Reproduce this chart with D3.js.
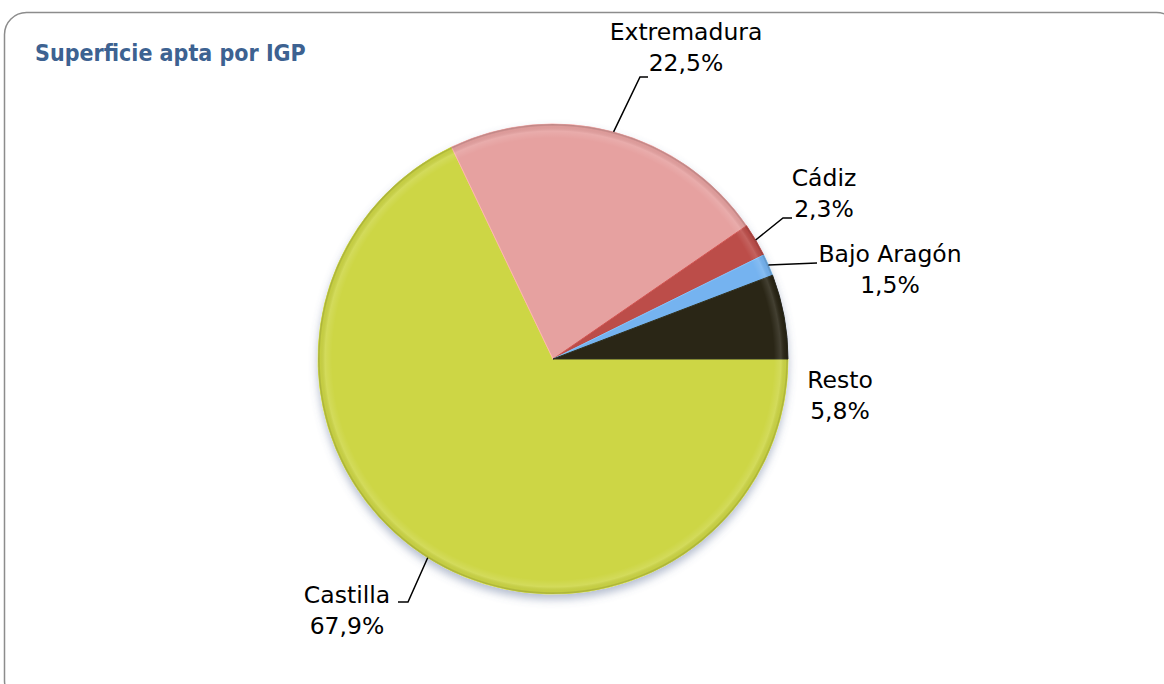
<!DOCTYPE html>
<html>
<head>
  <meta charset="utf-8">
  <title>Superficie apta por IGP</title>
  <script src="https://d3js.org/d3.v7.min.js"></script>
  <style>
    body { margin: 0; overflow: hidden; background: #fff; }
    svg { display: block; }
  </style>
</head>
<body>
  <svg width="1164" height="684"></svg>

  <script>
    // datos
    const categories = ["Castilla", "Extremadura", "Cádiz", "Bajo Aragón", "Resto"];
    const values = [67.9, 22.5, 2.3, 1.5, 5.8];
    const colors = ["#cdd645", "#e6a1a0", "#bc4d4a", "#74b3f0", "#2a2819"];

    // posición de las etiquetas (centro del texto, línea base de la primera fila)
    const labelPos = [[347, 603], [686, 40], [824, 186], [890, 262], [840, 388]];
    // fin de la línea guía (codo y extremo), null = sin línea
    const leaders = [[[408, 602], [398, 602]], [[640, 77], [648, 77]],
                     [[783, 218], [792, 218]], [[817, 263], [817, 263]], null];

    const svg = d3.select("svg");
    const cx = 553, cy = 359, r = 235;

    // marco
    svg.append("rect")
      .attr("x", 4.5).attr("y", 12.5)
      .attr("width", 1174).attr("height", 690)
      .attr("rx", 22)
      .attr("fill", "none")
      .attr("stroke", "#8c8c8c")
      .attr("stroke-width", 1.5);

    svg.append("text")
      .attr("x", 35).attr("y", 61)
      .attr("font-family", "DejaVu Sans Condensed, DejaVu Sans, sans-serif")
      .attr("font-weight", "bold")
      .attr("font-size", 23)
      .attr("fill", "#3d6291")
      .text("Superficie apta por IGP");

    const defs = svg.append("defs");
    const shadow = defs.append("filter").attr("id", "shadow")
      .attr("x", "-20%").attr("y", "-20%").attr("width", "140%").attr("height", "140%");
    shadow.append("feDropShadow")
      .attr("dx", 0).attr("dy", 5).attr("stdDeviation", 4)
      .attr("flood-color", "#5a6e96").attr("flood-opacity", 0.45);

    const rim = defs.append("radialGradient").attr("id", "rim")
      .attr("gradientUnits", "userSpaceOnUse")
      .attr("cx", 0).attr("cy", 0).attr("r", r);
    rim.append("stop").attr("offset", 0.94).attr("stop-color", "#fff").attr("stop-opacity", 0);
    rim.append("stop").attr("offset", 0.97).attr("stop-color", "#fff").attr("stop-opacity", 0.12);
    rim.append("stop").attr("offset", 0.99).attr("stop-color", "#000").attr("stop-opacity", 0.04);
    rim.append("stop").attr("offset", 1).attr("stop-color", "#000").attr("stop-opacity", 0.25);

    const data = categories.map((c, i) => ({ name: c, value: values[i], color: colors[i], i }));

    // empieza a las 3 en punto, sentido horario
    const pie = d3.pie()
      .value(d => d.value)
      .sort(null)
      .startAngle(Math.PI / 2)
      .endAngle(Math.PI / 2 + 2 * Math.PI);

    const arcs = pie(data);
    const arc = d3.arc().innerRadius(0).outerRadius(r);

    const g = svg.append("g").attr("transform", `translate(${cx},${cy})`);

    g.append("g").attr("filter", "url(#shadow)")
      .selectAll("path")
      .data(arcs)
      .join("path")
      .attr("d", arc)
      .attr("fill", d => d.data.color)
      .attr("stroke", d => d3.color(d.data.color).brighter(0.3))
      .attr("stroke-width", 1);

    g.append("circle").attr("r", r).attr("fill", "url(#rim)");

    // líneas guía
    const lines = svg.append("g");
    arcs.forEach((a, i) => {
      if (!leaders[i]) return;
      const mid = (a.startAngle + a.endAngle) / 2;
      const p0 = [cx + r * Math.sin(mid), cy - r * Math.cos(mid)];
      lines.append("path")
        .attr("d", d3.line()([p0, leaders[i][0], leaders[i][1]]))
        .attr("fill", "none")
        .attr("stroke", "#000")
        .attr("stroke-width", 1.5);
    });

    // etiquetas
    const labels = svg.append("g")
      .attr("font-family", "DejaVu Sans, sans-serif")
      .attr("font-size", 23.5)
      .attr("text-anchor", "middle")
      .attr("fill", "#000");

    data.forEach((d, i) => {
      const t = labels.append("text").attr("x", labelPos[i][0]).attr("y", labelPos[i][1]);
      t.append("tspan").attr("x", labelPos[i][0]).text(d.name);
      t.append("tspan").attr("x", labelPos[i][0]).attr("dy", 31)
        .text(d3.format(".1f")(d.value).replace(".", ",") + "%");
    });
  </script>
</body>
</html>
